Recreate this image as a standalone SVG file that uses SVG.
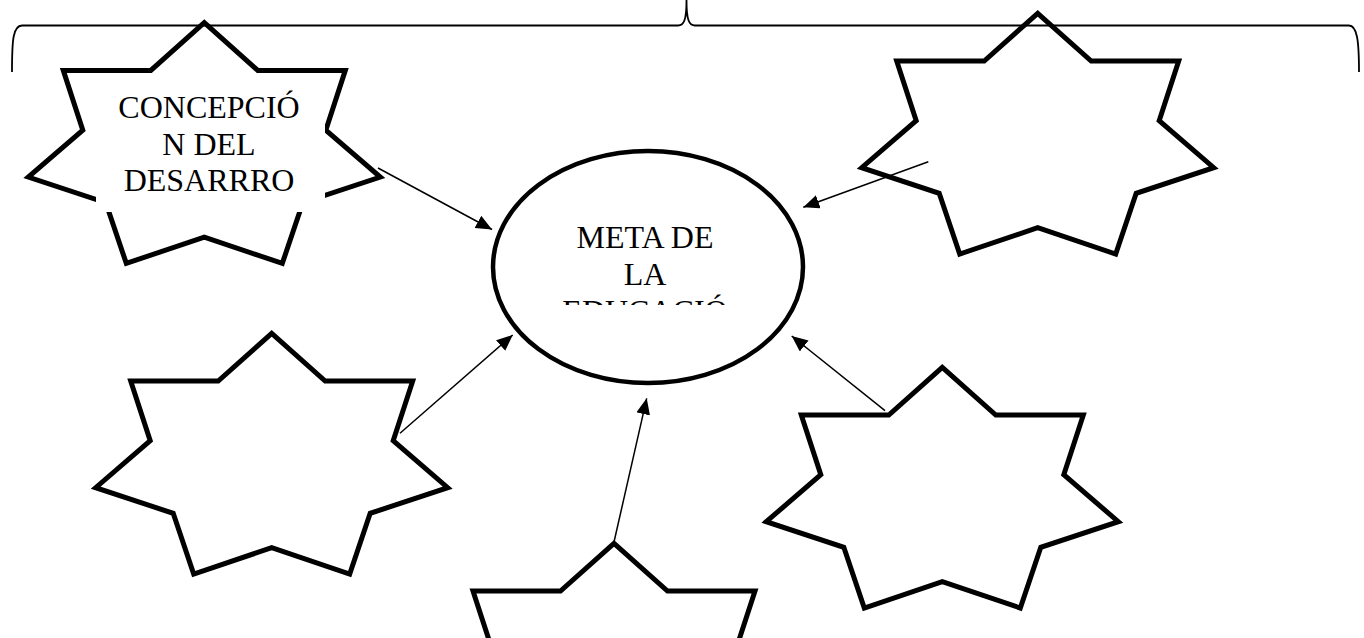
<svg xmlns="http://www.w3.org/2000/svg" xmlns:xlink="http://www.w3.org/1999/xlink" width="1364" height="638" viewBox="0 0 1364 638">
<style>
.star{fill:none;stroke:#000;stroke-width:5;stroke-linejoin:miter;stroke-miterlimit:10}
.ell{fill:#fff;stroke:#000;stroke-width:4.5}
.lbl{font-family:"Liberation Serif","Times New Roman",serif;font-size:32px;fill:#000;text-anchor:middle}
.conn{stroke:#000;stroke-width:1.5;fill:none;marker-end:url(#ah)}
.brace{fill:none;stroke:#000;stroke-width:1.8}
</style>
<defs>
<path id="star" d="M0,0 L53.5,47.7 L141,47.7 L121.5,107.4 L176,154.4 L98.5,180 L78,240.7 L0,214.4 L-78,240.7 L-98.5,180 L-176,154.4 L-121.5,107.4 L-141,47.7 L-53.5,47.7 Z"/>
<marker id="ah" markerUnits="userSpaceOnUse" markerWidth="17" markerHeight="15" refX="16" refY="7" orient="auto">
<path d="M0,0 L16,7 L0,14 Z" fill="#000"/>
</marker>
<clipPath id="ellclip"><rect x="540" y="200" width="210" height="105"/></clipPath>
</defs>
<rect width="1364" height="638" fill="#fff"/>
<g id="brace">
<path class="brace" d="M12,72 C12,40 13,25.5 22,25.5 L678,25.5 C684,25.5 686.5,20 686.5,0 C686.5,20 689,25.5 695,25.5 L1349,25.5 C1357,25.5 1359,40 1359,72"/>
</g>
<g id="node-concepcion">
<use xlink:href="#star" href="#star" class="star" transform="translate(204.3,22.7)"/>
<rect x="96" y="82" width="229" height="130" fill="#fff"/>
<text class="lbl" x="209" y="118">CONCEPCIÓ</text>
<text class="lbl" x="209" y="154.5">N DEL</text>
<text class="lbl" x="209" y="191">DESARRRO</text>
</g>
<g id="node-topright">
<use xlink:href="#star" href="#star" class="star" transform="translate(1037.7,13.3)"/>
</g>
<g id="node-bottomleft">
<use xlink:href="#star" href="#star" class="star" transform="translate(271.7,333.3)"/>
</g>
<g id="node-bottom">
<use xlink:href="#star" href="#star" class="star" transform="translate(614,543.3)"/>
</g>
<g id="node-bottomright">
<use xlink:href="#star" href="#star" class="star" transform="translate(942.3,367.3)"/>
</g>
<g id="node-meta">
<ellipse class="ell" cx="648" cy="267" rx="155" ry="116"/>
<g clip-path="url(#ellclip)">
<text class="lbl" x="645" y="248">META DE</text>
<text class="lbl" x="645" y="285">LA</text>
<text class="lbl" x="645" y="322">EDUCACIÓ</text>
</g>
</g>
<g id="connectors">
<line class="conn" x1="378" y1="168" x2="492" y2="229.5"/>
<line class="conn" x1="928.3" y1="161.7" x2="803.3" y2="207.3"/>
<line class="conn" x1="400" y1="433.3" x2="512.7" y2="335"/>
<line class="conn" x1="614" y1="542" x2="646.7" y2="398.3"/>
<line class="conn" x1="885" y1="410.7" x2="791.7" y2="336"/>
</g>
</svg>
